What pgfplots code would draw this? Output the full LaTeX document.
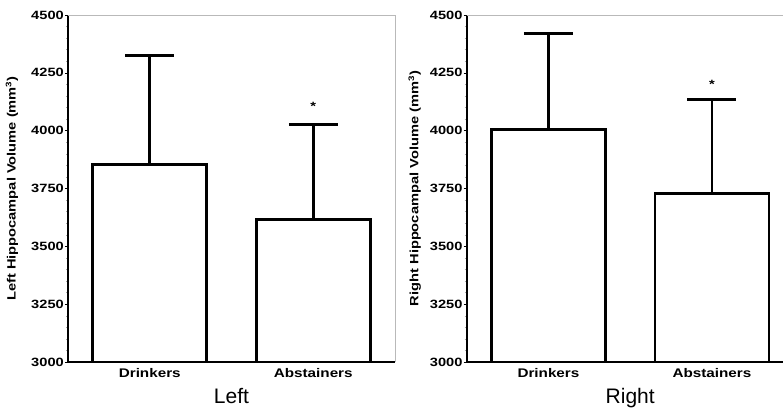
\documentclass[border=0pt]{standalone}
\usepackage{pgfplots}
\pgfplotsset{compat=1.18}
\usetikzlibrary{calc}
\usepackage{fontspec}
\setmainfont{Liberation Sans}[FakeStretch=1.22]
\newfontfamily\titlefont{Liberation Sans}
\begin{document}
\begin{tikzpicture}
\useasboundingbox (0pt,0pt) rectangle (783pt,407pt);
\pgfplotsset{
  panel/.style={
    scale only axis, width=327pt, height=347pt,
    ymin=3000, ymax=4500, xmin=0.5, xmax=2.5,
    axis x line*=bottom, axis y line*=left,
    axis line style={line width=2.4pt, black},
    ytick={3000,3250,...,4500},
    minor y tick num=4,
    xtick={1,2}, xticklabels={Drinkers,Abstainers},
    major x tick style={draw=none},
    tick style={black, line width=0.6pt},
    minor tick style={gray!70, line width=0.4pt},
    major tick length=3pt, minor tick length=2pt,
    tick align=outside,
    /pgf/number format/assume math mode=true,
    /pgf/number format/1000 sep={},
    yticklabel style={font=\bfseries\fontsize{12}{12}\selectfont, inner sep=1pt},
    xticklabel style={font=\bfseries\fontsize{12.5}{12.5}\selectfont},
    ylabel style={font=\bfseries\fontsize{12}{12}\selectfont, anchor=center},
    xlabel style={font=\titlefont\fontsize{21}{21}\selectfont, at={(axis cs:1.5,3000)}, anchor=base, yshift=-41pt},
  },
  barstyle/.style={ybar, bar width=114pt, fill=white, draw=black, line width=2.6pt,
    error bars/.cd, y dir=plus, y explicit,
    error bar style={line width=2.6pt},
    error mark options={line width=2.6pt, mark size=24.5pt, rotate=90}},
}
\begin{axis}[panel, name=L, at={(68pt,45pt)}, anchor=south west,
  xlabel={Left},
  ylabel={Left Hippocampal Volume (mm\textsuperscript{3})},
  ylabel style={at={($(rel axis cs:0,0.5)+(-56pt,0pt)$)}}]
\addplot[barstyle] coordinates {(1,3855) +- (0,470) (2,3615) +- (0,412)};
\node[font=\bfseries\fontsize{12}{12}\selectfont] at (axis cs:2,4104) {*};
\end{axis}
\draw[gray!55, line width=0.8pt] (L.north west) -- (L.north east) -- (L.south east);

\begin{axis}[panel, name=R, at={(466.7pt,45pt)}, anchor=south west,
  xlabel={Right},
  ylabel={Right Hippocampal Volume (mm\textsuperscript{3})},
  ylabel style={at={($(rel axis cs:0,0.5)+(-52pt,0pt)$)}}]
\addplot[barstyle] coordinates {(1,4005) +- (0,415) (2,3728) +- (0,406)};
\node[font=\bfseries\fontsize{12}{12}\selectfont] at (axis cs:2,4200) {*};
\end{axis}
\draw[gray!55, line width=0.8pt] (R.north west) -- (R.north east) -- (R.south east);
\end{tikzpicture}
\end{document}
